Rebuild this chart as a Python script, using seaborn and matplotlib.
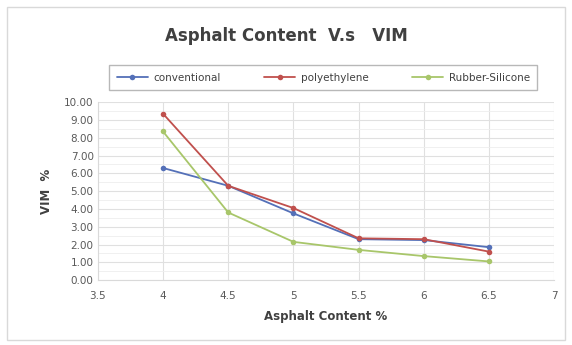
import pandas as pd
import matplotlib
matplotlib.use("Agg")
import matplotlib.pyplot as plt
from matplotlib.ticker import MultipleLocator, FormatStrFormatter
from matplotlib.patches import Rectangle
import seaborn as sns

asphalt = [4, 4.5, 5, 5.5, 6, 6.5]
conventional = [6.3, 5.3, 3.75, 2.3, 2.25, 1.85]
polyethylene = [9.35, 5.3, 4.05, 2.35, 2.3, 1.6]
rubber_silicone = [8.35, 3.8, 2.15, 1.7, 1.35, 1.05]
series_names = ["conventional", "polyethylene", "Rubber-Silicone"]
colors = ["#5470B8", "#C0504D", "#A8C66A"]

rows = []
for name, vals in zip(series_names, [conventional, polyethylene, rubber_silicone]):
    for x, v in zip(asphalt, vals):
        rows.append({"asphalt": x, "vim": v, "mix": name})
df = pd.DataFrame(rows)

sns.set_style("white")
plt.rcParams['font.family'] = ['DejaVu Sans']

fig = plt.figure(figsize=(5.72, 3.45), dpi=100)
fig.patches.append(Rectangle((0.012, 0.015), 0.975, 0.965, transform=fig.transFigure,
                             fill=False, edgecolor="#d9d9d9", linewidth=1))
ax = fig.add_axes([0.171, 0.188, 0.798, 0.516])

sns.lineplot(data=df, x="asphalt", y="vim", hue="mix", palette=colors,
             marker="o", markersize=4, markeredgewidth=0, linewidth=1.3, ax=ax)

ax.set_xlim(3.5, 7)
ax.set_ylim(0, 10)
ax.xaxis.set_major_locator(MultipleLocator(0.5))
ax.yaxis.set_major_locator(MultipleLocator(1))
ax.yaxis.set_minor_locator(MultipleLocator(0.5))
ax.yaxis.set_major_formatter(FormatStrFormatter("%.2f"))
ax.set_xticks([3.5, 4, 4.5, 5, 5.5, 6, 6.5, 7])
ax.set_xticklabels(["3.5", "4", "4.5", "5", "5.5", "6", "6.5", "7"])
ax.grid(True, which="major", color="#e0e0e0", linewidth=0.8)
ax.grid(True, which="minor", axis="y", color="#eeeeee", linewidth=0.6)
ax.set_axisbelow(True)
for s in ["top", "right"]:
    ax.spines[s].set_visible(False)
ax.spines["left"].set_color("#d9d9d9")
ax.spines["bottom"].set_color("#d9d9d9")
ax.tick_params(axis="both", labelsize=7.5, labelcolor="#595959", length=0, pad=3)
ax.tick_params(axis="x", pad=8)

ax.set_xlabel("Asphalt Content %", fontsize=8.5, fontweight="bold", color="#404040", labelpad=6)
ax.set_ylabel("VIM  %", fontsize=8.5, fontweight="bold", color="#404040", labelpad=8)

fig.text(0.5, 0.895, "Asphalt Content  V.s   VIM", ha="center", va="center",
         fontsize=12, fontweight="bold", color="#404040")

handles, labels = ax.get_legend_handles_labels()
ax.legend(handles, labels, loc="center", bbox_to_anchor=(0.565, 0.775), bbox_transform=fig.transFigure,
          ncol=3, fontsize=7.5, frameon=True, fancybox=False, edgecolor="#a6a6a6",
          handlelength=3.0, columnspacing=4.2, borderpad=0.7, borderaxespad=0,
          handletextpad=0.5, labelcolor="#404040")

fig.savefig("out.png", dpi=100)
